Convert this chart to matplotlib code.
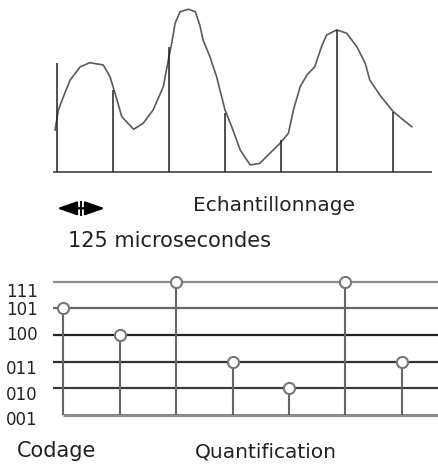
import numpy as np
import matplotlib

matplotlib.use("Agg")
import matplotlib.pyplot as plt
import matplotlib.transforms as mtransforms

# analog signal, time in sample periods, amplitude in arbitrary units
signal_t = [-0.03, 0.03, 0.12, 0.24, 0.42, 0.59, 0.83, 0.95, 1.04, 1.16, 1.37,
            1.54, 1.72, 1.90, 1.99, 2.05, 2.11, 2.20, 2.35, 2.47, 2.55, 2.61,
            2.73, 2.85, 3.00, 3.12, 3.27, 3.45, 3.62, 3.80, 3.98, 4.13, 4.22,
            4.34, 4.46, 4.60, 4.72, 4.81, 4.99, 5.17, 5.35, 5.50, 5.58, 5.76,
            6.00, 6.18, 6.33]
signal_a = [2.62, 3.88, 4.71, 5.75, 6.58, 6.83, 6.69, 5.96, 4.92, 3.46, 2.67,
            3.04, 3.88, 5.33, 7.00, 8.04, 9.29, 10.02, 10.17, 10.02, 9.19, 8.25,
            7.21, 5.96, 3.88, 2.83, 1.38, 0.44, 0.54, 1.17, 1.79, 2.42, 3.88,
            5.33, 6.06, 6.58, 7.83, 8.56, 8.88, 8.67, 7.83, 6.79, 5.75, 4.81,
            3.77, 3.25, 2.83]

# sampled values (height of each sampling line)
samples = [0, 1, 2, 3, 4, 5, 6]
sample_heights = [6.81, 5.13, 7.81, 3.69, 2.00, 8.88, 3.75]

# quantisation levels and the code given to each sample
levels = ["001", "010", "011", "100", "101", "111"]
level_colors = ["#8c8c8c", "#3a3a3a", "#333333", "#222222", "#666666", "#8c8c8c"]
label_nudge_px = [10, 12, 12, 5, 7, 15]  # baseline offset below each line
codes = ["101", "100", "111", "011", "010", "111", "011"]

W, H = 438, 468
TEXT = "#222222"
FONT = "DejaVu Sans"


def main():
    fig = plt.figure(figsize=(W / 100, H / 100), dpi=100)
    fig.patch.set_facecolor("white")

    # ---- sampling panel
    ax1 = fig.add_axes([0, 1 - 180 / H, 1, 180 / H])
    ax1.set_xlim(-56.7 / 56.1, (W - 56.7) / 56.1)
    ax1.set_ylim(-0.5, 10.75)
    ax1.axis("off")

    ax1.plot(signal_t, signal_a, color="#5a5a5a", lw=1.2, solid_joinstyle="round")
    ax1.vlines(samples, 0, sample_heights, color="#222222", lw=1.1)
    ax1.hlines(0, -0.066, 6.69, color="#333333", lw=1.1)

    # ---- quantisation panel
    ax2 = fig.add_axes([0, 0, 1, 208 / H])
    ax2.set_xlim(-63.3 / 56.4, (W - 63.3) / 56.4)
    ax2.set_ylim((415 - 468) / 26.66, (415 - 260) / 26.66)
    ax2.axis("off")

    rows = np.arange(len(levels))
    for r, col in zip(rows, level_colors):
        start = 0 if r == 0 else -0.18
        lw = 2.2 if r == 0 else 1.6
        ax2.hlines(r, start, 6.7, color=col, lw=lw, zorder=1)

    code_rows = [levels.index(c) for c in codes]
    ax2.vlines(samples, 0, code_rows, color="#666666", lw=1.5, zorder=2)
    ax2.plot(samples, code_rows, "o", ms=8, mfc="white", mec="#777777",
             mew=1.5, zorder=3)

    for r, lab, nudge in zip(rows, levels, label_nudge_px):
        tr = mtransforms.offset_copy(ax2.transData, fig=fig,
                                     y=-nudge * 0.72, units="points")
        ax2.text(-0.45, r, lab, transform=tr, ha="right", va="baseline",
                 fontsize=12, color=TEXT, family=FONT)

    # ---- free texts and arrow (figure pixels)
    def ftext(x, y, s, size):
        fig.text(x / W, 1 - y / H, s, ha="left", va="baseline",
                 fontsize=size, color=TEXT, family=FONT)

    ftext(193, 210.7, "Echantillonnage", 14.5)
    ftext(68, 247, "125 microsecondes", 15)
    ftext(17, 456.7, "Codage", 15)
    ftext(195, 457, "Quantification", 14.5)

    # double arrow = two arrows pointing outward from a small centre bar
    ay = H - 208.3
    for tip in (57, 105):
        fig.axes[0].annotate(
            "", xy=(tip, ay), xytext=(81, ay),
            xycoords="figure pixels", textcoords="figure pixels",
            arrowprops=dict(arrowstyle="-|>,head_length=1.2,head_width=0.42",
                            color="black", lw=1.6, shrinkA=0, shrinkB=0),
            annotation_clip=False,
        )
    fig.add_artist(plt.Line2D([81 / W, 81 / W], [1 - 215 / H, 1 - 201.5 / H],
                              transform=fig.transFigure, color="black", lw=1.4))

    fig.savefig("out.png", dpi=100, facecolor="white")


if __name__ == "__main__":
    main()
